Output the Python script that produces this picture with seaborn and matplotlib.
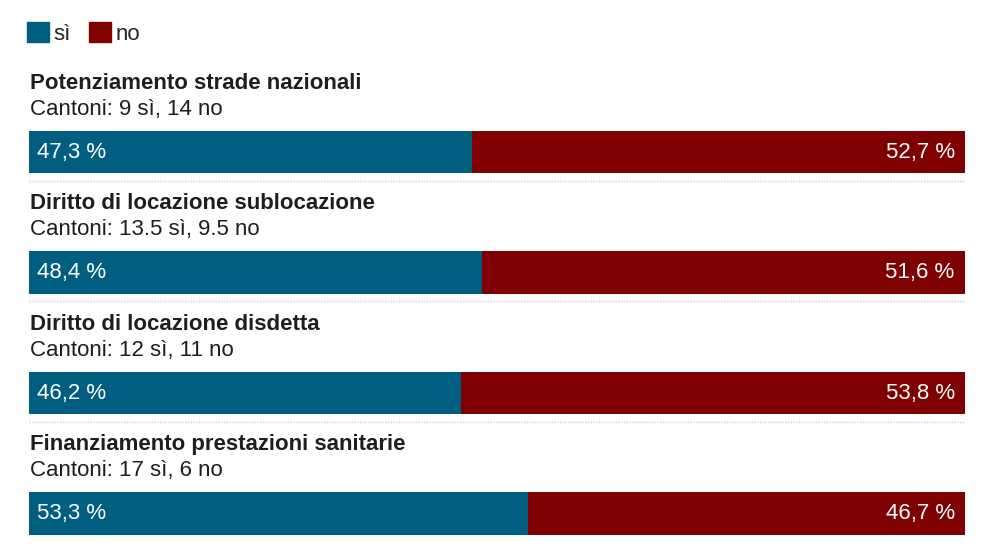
import matplotlib
matplotlib.use('Agg')
import matplotlib.pyplot as plt
import pandas as pd
import seaborn as sns
from matplotlib.patches import Patch

TITLES = [
    'Potenziamento strade nazionali',
    'Diritto di locazione sublocazione',
    'Diritto di locazione disdetta',
    'Finanziamento prestazioni sanitarie',
]
CANTONI = [
    'Cantoni: 9 sì, 14 no',
    'Cantoni: 13.5 sì, 9.5 no',
    'Cantoni: 12 sì, 11 no',
    'Cantoni: 17 sì, 6 no',
]
SI = [47.3, 48.4, 46.2, 53.3]
NO = [52.7, 51.6, 53.8, 46.7]

BLUE = '#005f80'
RED = '#7f0000'
INK = '#1e1e1e'


def fmt(v):
    return f'{v:.1f}'.replace('.', ',') + ' %'


def main():
    sns.set_theme(style='white')
    plt.rcParams['font.family'] = ['Liberation Sans', 'DejaVu Sans']

    df = pd.DataFrame({'title': TITLES, 'si': SI, 'no': NO})
    df['total'] = df['si'] + df['no']

    fig = plt.figure(figsize=(9.94, 5.59), dpi=100)
    ax = fig.add_axes([29 / 994, 0, (965 - 29) / 994, 1])

    sns.barplot(df, x='total', y='title', color=RED, width=0.35,
                saturation=1, ax=ax, orient='h', linewidth=0)
    sns.barplot(df, x='si', y='title', color=BLUE, width=0.35,
                saturation=1, ax=ax, orient='h', linewidth=0)

    ax.set_xlim(0, 100)
    ax.set_ylim(3.378, -1.261)
    ax.set_axis_off()

    for i, row in df.iterrows():
        ax.text(0.1, i - 0.523, row['title'], fontsize=16, fontweight='bold',
                color=INK, va='baseline', ha='left')
        ax.text(0.1, i - 0.307, CANTONI[i], fontsize=16, color=INK,
                va='baseline', ha='left')
        ax.text(0.85, i + 0.05, fmt(row['si']), fontsize=16, color='white',
                va='baseline', ha='left')
        ax.text(98.9, i + 0.05, fmt(row['no']), fontsize=16, color='white',
                va='baseline', ha='right')
        if i < len(df) - 1:
            ax.plot([0, 100], [i + 0.24, i + 0.24], color='#cccccc',
                    linestyle=(0, (1, 1)), linewidth=1)

    handles = [Patch(color=BLUE, label='sì'), Patch(color=RED, label='no')]
    fig.legend(handles=handles, loc='upper left', bbox_to_anchor=(27 / 994, 1 - 22 / 559),
               ncol=2, frameon=False, fontsize=16, handlelength=1.0,
               handleheight=1.0, handletextpad=0.2, columnspacing=0.8,
               borderaxespad=0, borderpad=0)

    fig.savefig('out.png', dpi=100)
    plt.close(fig)


if __name__ == '__main__':
    main()
